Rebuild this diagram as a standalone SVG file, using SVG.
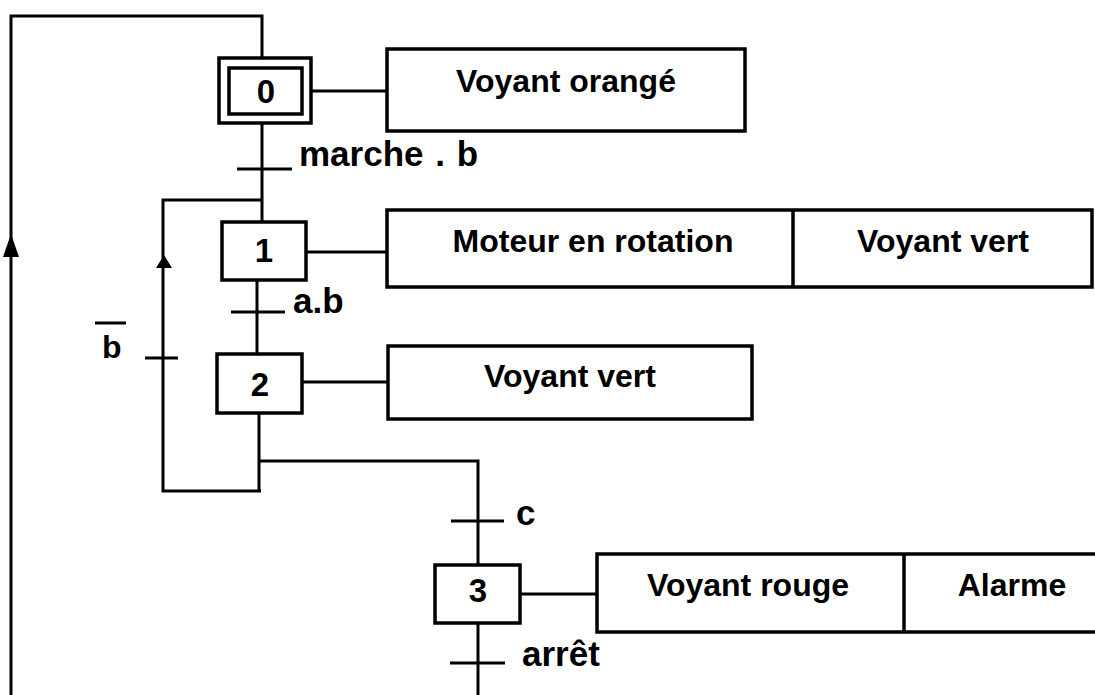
<svg xmlns="http://www.w3.org/2000/svg" width="1095" height="695" viewBox="0 0 1095 695">
<style>
.ln{stroke:#000;stroke-width:3;fill:none}
.bx{stroke:#000;stroke-width:3.5;fill:#fff}
.t{font-family:"Liberation Sans",Arial,sans-serif;font-weight:bold;font-size:32px;fill:#000}
.tr{font-size:35px}
.n{font-family:"Liberation Sans",Arial,sans-serif;font-weight:bold;font-size:33px;fill:#000;text-anchor:middle}
.a{text-anchor:middle}
</style>
<defs>
<path id="arrowUp" d="M0,0 L-8,23 L8,23 Z" fill="#000"/>
<path id="arrowUpS" d="M0,0 L-8,13 L8,13 Z" fill="#000"/>
</defs>
<rect width="1095" height="695" fill="#fff"/>
<g id="connectors">
<polyline class="ln" points="11,695 11,16 262,16 262,58"/>
<line class="ln" x1="262" y1="123" x2="262" y2="222"/>
<polyline class="ln" points="262,200 163,200 163,491 261,491"/>
<line class="ln" x1="257" y1="280" x2="257" y2="354"/>
<line class="ln" x1="259" y1="413" x2="259" y2="491"/>
<polyline class="ln" points="259,461 478,461 478,565"/>
<line class="ln" x1="478" y1="623" x2="478" y2="695"/>
<line class="ln" x1="311" y1="91" x2="387" y2="91"/>
<line class="ln" x1="306" y1="252" x2="387" y2="252"/>
<line class="ln" x1="302" y1="382" x2="388" y2="382"/>
<line class="ln" x1="520" y1="594" x2="597" y2="594"/>
<use href="#arrowUp" x="11" y="234"/>
<use href="#arrowUpS" x="164" y="255"/>
</g>
<g id="step0">
<rect class="bx" x="219" y="58" width="92" height="65"/>
<rect class="bx" x="229" y="68" width="73" height="46"/>
<text class="n" x="266" y="103">0</text>
</g>
<g id="step1">
<rect class="bx" x="222" y="222" width="84" height="58"/>
<text class="n" x="264" y="262">1</text>
</g>
<g id="step2">
<rect class="bx" x="217" y="354" width="85" height="59"/>
<text class="n" x="260" y="396">2</text>
</g>
<g id="step3">
<rect class="bx" x="435" y="565" width="85" height="58"/>
<text class="n" x="478" y="602">3</text>
</g>
<g id="action0">
<rect class="bx" x="387" y="49" width="358" height="82"/>
<text class="t a" x="566" y="92">Voyant orangé</text>
</g>
<g id="action1">
<rect class="bx" x="387" y="210" width="705" height="77"/>
<line class="bx" x1="793" y1="210" x2="793" y2="287"/>
<text class="t a" x="593" y="252">Moteur en rotation</text>
<text class="t a" x="943" y="252">Voyant vert</text>
</g>
<g id="action2">
<rect class="bx" x="388" y="346" width="364" height="73"/>
<text class="t a" x="570" y="387">Voyant vert</text>
</g>
<g id="action3">
<rect class="bx" x="597" y="554" width="510" height="78"/>
<line class="bx" x1="904" y1="554" x2="904" y2="632"/>
<text class="t a" x="748" y="596">Voyant rouge</text>
<text class="t a" x="1012" y="596">Alarme</text>
</g>
<g id="transitions">
<line class="ln" x1="237" y1="169" x2="292" y2="169"/>
<text class="t tr" x="299" y="166">marche <tspan dx="2">.</tspan> <tspan dx="2">b</tspan></text>
<line class="ln" x1="231" y1="312" x2="285" y2="312"/>
<text class="t tr" x="293" y="313">a.b</text>
<line class="ln" x1="145" y1="358" x2="178" y2="358"/>
<line class="ln" x1="95" y1="323" x2="126" y2="323"/>
<text class="t" x="102" y="358" font-size="34">b</text>
<line class="ln" x1="451" y1="521" x2="504" y2="521"/>
<text class="t tr" x="516" y="525">c</text>
<line class="ln" x1="450" y1="663" x2="505" y2="663"/>
<text class="t tr" x="522" y="666">arrêt</text>
</g>
</svg>
